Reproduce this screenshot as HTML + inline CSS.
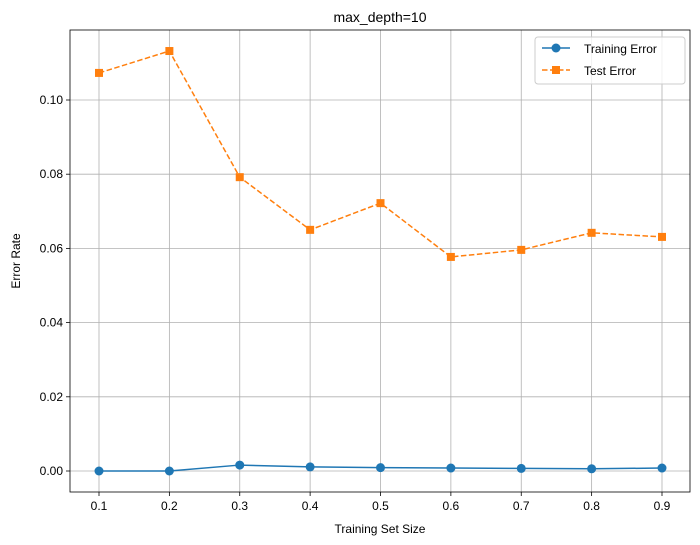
<!DOCTYPE html>
<html><head><meta charset="utf-8"><style>
html,body{margin:0;padding:0;background:#fff;}
svg{display:block;font-family:"Liberation Sans","DejaVu Sans",sans-serif;}
</style></head><body>
<svg id="chart" width="700" height="545">
<rect x="0" y="0" width="700" height="545" fill="#fff"/>
<g id="grid"></g>
<g id="axes"></g>
<g id="series"></g>
<text x="380" y="22" text-anchor="middle" font-size="14">max_depth=10</text>
<text x="380" y="533" text-anchor="middle" font-size="12">Training Set Size</text>
<text x="20" y="261" text-anchor="middle" font-size="12" transform="rotate(-90 20 261)">Error Rate</text>
<g>
<rect x="535" y="37" width="150" height="47" fill="#fff" fill-opacity="0.8" stroke="#ccc" rx="3"/>
<g>
<line x1="542" y1="48" x2="570" y2="48" stroke="#1f77b4" stroke-width="1.5"/>
<circle cx="556" cy="48" r="4.5" fill="#1f77b4"/>
<text x="584" y="53" font-size="12">Training Error</text></g>
<g>
<line x1="542" y1="70" x2="570" y2="70" stroke="#ff7f0e" stroke-width="1.5" stroke-dasharray="5.5,2.5"/>
<rect x="552" y="66" width="8" height="8" fill="#ff7f0e"/>
<text x="584" y="75" font-size="12">Test Error</text></g>
</g>
</svg>
<script>
const categories=[0.1,0.2,0.3,0.4,0.5,0.6,0.7,0.8,0.9];
const trainErr=[0.0,0.0,0.0016,0.0011,0.0009,0.0008,0.0007,0.0006,0.0008];
const testErr=[0.1073,0.1132,0.0792,0.065,0.0722,0.0577,0.0596,0.0642,0.0631];
const yTicks=[0,0.02,0.04,0.06,0.08,0.10];
const yTickLabels=["0.00","0.02","0.04","0.06","0.08","0.10"];
const xTickLabels=["0.1","0.2","0.3","0.4","0.5","0.6","0.7","0.8","0.9"];
const NS="http://www.w3.org/2000/svg";
const L=70,R=690,T=30,B=492;
function xs(v){return 99+(v-0.1)*703.75;}
function ys(v){return 471-v*3710;}
function mk(tag,attrs,parent){const e=document.createElementNS(NS,tag);for(const k in attrs)e.setAttribute(k,attrs[k]);parent.appendChild(e);return e;}
const grid=document.getElementById('grid'),axes=document.getElementById('axes'),ser=document.getElementById('series');
categories.forEach((c,i)=>{const x=xs(c);
 const g=mk('line',{x1:x,y1:T,x2:x,y2:B,stroke:'#b0b0b0','stroke-width':0.8},grid);
 
 
 mk('line',{x1:x,y1:B,x2:x,y2:B+4,stroke:'#000','stroke-width':0.8},axes);
 const t=mk('text',{x:x,y:B+18,'text-anchor':'middle','font-size':12},axes);t.textContent=xTickLabels[i];
 
 
});
yTicks.forEach((v,i)=>{const y=ys(v);
 const g=mk('line',{x1:L,y1:y,x2:R,y2:y,stroke:'#b0b0b0','stroke-width':0.8},grid);
 
 
 mk('line',{x1:L-4,y1:y,x2:L,y2:y,stroke:'#000','stroke-width':0.8},axes);
 const t=mk('text',{x:L-7,y:y+4,'text-anchor':'end','font-size':12},axes);t.textContent=yTickLabels[i];
 
 
});
const frame=mk('rect',{x:L,y:T,width:R-L,height:B-T,fill:'none',stroke:'#000','stroke-width':0.8},axes);


const p1=mk('polyline',{points:categories.map((c,i)=>xs(c)+','+ys(trainErr[i])).join(' '),fill:'none',stroke:'#1f77b4','stroke-width':1.5},ser);


const p2=mk('polyline',{points:categories.map((c,i)=>xs(c)+','+ys(testErr[i])).join(' '),fill:'none',stroke:'#ff7f0e','stroke-width':1.5,'stroke-dasharray':'5.5,2.5'},ser);


categories.forEach((c,i)=>{
 const m=mk('circle',{cx:xs(c),cy:ys(trainErr[i]),r:4.5,fill:'#1f77b4'},ser);
 
 
 const s=mk('rect',{x:xs(c)-4,y:ys(testErr[i])-4,width:8,height:8,fill:'#ff7f0e'},ser);
 
 
});
</script>
</body></html>
